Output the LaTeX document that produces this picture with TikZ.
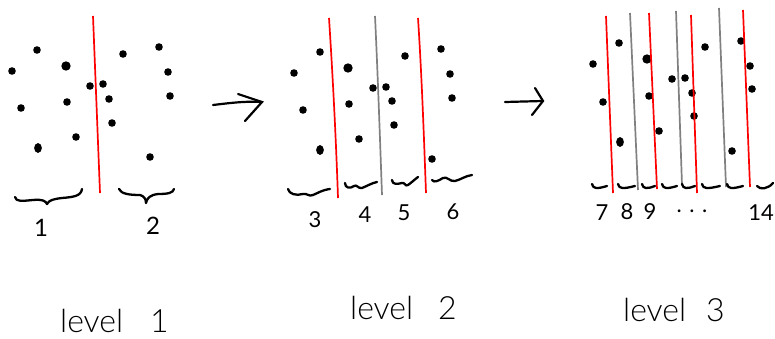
\documentclass[tikz,border=0pt]{standalone}
\usepackage{fontspec}
\setmainfont{Lato}[UprightFont=* Light]
\newfontfamily\digitfont{Lato}
\usetikzlibrary{arrows.meta}
\begin{document}
\begin{tikzpicture}[x=1pt,y=-1pt,
  dotfill/.style={fill=black},
  cutmain/.style={draw=red, line width=1.7pt},
  cutsub/.style={draw=black!50, line width=1.7pt},
  grp/.style={draw=black, line width=2.3pt, line cap=round, line join=round},
  digit/.style={font=\digitfont\fontsize{24}{24}\selectfont, inner sep=0pt},
  small digit/.style={font=\digitfont\fontsize{22}{22}\selectfont, inner sep=0pt},
  lvl/.style={font=\fontsize{32}{32}\selectfont, anchor=base west, inner sep=0pt},
  flow/.style={draw=black, line width=2.2pt, line cap=round}]
\useasboundingbox (0,0) rectangle (775,339);

% ---------- level 1 ----------
\foreach \p in {(37,50),(12,71),(21,108),(67,102),(90,86),(103,84),(109,99),
                (112,123),(76,137),(123,54),(159,47),(168,72),(170,96),(150,157)}
  \fill[dotfill] \p circle[radius=3.8];
\fill[dotfill] (66,66) circle[radius=4.7];
\fill[dotfill] (38,148) ellipse[x radius=3.9, y radius=4.9];
\draw[cutmain] (93,16) -- (100,193);
\draw[grp] (15,197) .. controls (16,202) and (22,201) .. (33,200)
           .. controls (42,199) and (46,201) .. (47,204)
           .. controls (49,200) and (54,199) .. (62,198)
           .. controls (74,197) and (81,196) .. (82,189);
\draw[grp] (119,189) .. controls (121,194) and (130,195) .. (140,195)
           .. controls (144,196) and (146,199) .. (146,203)
           .. controls (147,198) and (150,195) .. (158,194)
           .. controls (168,194) and (173,193) .. (174,189);
\node[digit] (g1) at (41,228) {1};
\node[digit] (g2) at (153,226) {2};
\node[lvl] (lv1) at (60,332) {level\hspace{27pt}1};

% ---------- arrows ----------
\coordinate (a1s) at (213,105);
\coordinate (a1e) at (262,102);
\coordinate (a2s) at (505,102);
\coordinate (a2e) at (543,101);
\draw[flow] (a1s) .. controls (230,103) and (245,101) .. (a1e);
\draw[flow] (238,94) -- (a1e) -- (245,121);
\draw[flow] (a2s) -- (a2e);
\draw[flow] (535,88) -- (a2e) -- (532,115);

% ---------- level 2 ----------
\foreach \p in {(320,52),(294,73),(303,110),(349,104),(373,88),(386,87),(392,101),
                (394,125),(359,139),(405,56),(441,49),(450,74),(452,98),(432,159)}
  \fill[dotfill] \p circle[radius=3.8];
\fill[dotfill] (348,68) circle[radius=4.7];
\fill[dotfill] (320,150) ellipse[x radius=3.9, y radius=4.9];
\draw[cutmain] (329,18) .. controls (333,80) and (336,140) .. (338,198);
\draw[cutsub]  (375,16) .. controls (378,80) and (380,140) .. (382,195);
\draw[cutmain] (418,18) .. controls (422,80) and (424,140) .. (426,193);
\draw[grp] (288,189) .. controls (289,194) and (296,196) .. (303,194)
           .. controls (307,193) and (309,197) .. (313,195)
           .. controls (318,193) and (322,190) .. (330,189);
\draw[grp] (345,183) .. controls (345,188) and (350,189) .. (354,186)
           .. controls (357,184) and (358,189) .. (362,188)
           .. controls (367,186) and (372,183) .. (377,182);
\draw[grp] (392,180) .. controls (392,185) and (398,184) .. (402,183)
           .. controls (405,182) and (405,187) .. (408,185)
           .. controls (411,183) and (414,180) .. (418,177);
\draw[grp] (432,180) .. controls (434,183) and (438,181) .. (443,178)
           .. controls (447,176) and (450,182) .. (455,181)
           .. controls (460,180) and (465,176) .. (472,175);
\node[small digit] (g3) at (315,220) {3};
\node[small digit] (g4) at (365,215) {4};
\node[small digit] (g5) at (404,213) {5};
\node[small digit] (g6) at (453,212) {6};
\node[lvl] (lv2) at (350,319) {level\hspace{25pt}2};

% ---------- level 3 ----------
\foreach \p in {(593,64),(603,102),(619,43),(649,96),(659,131),(672,79),(685,78),
                (692,93),(694,116),(705,47),(741,41),(750,66),(752,89),(732,151)}
  \fill[dotfill] \p circle[radius=3.8];
\fill[dotfill] (647,59) circle[radius=4.7];
\fill[dotfill] (620,142) ellipse[x radius=3.9, y radius=4.9];
\draw[cutmain] (606,16) -- (613,193);
\draw[cutsub]  (630,13) -- (638,190);
\draw[cutmain] (649,13) -- (657,189);
\draw[cutsub]  (676,11) -- (682,185);
\draw[cutmain] (691,15) -- (697,193);
\draw[cutsub]  (719,8)  -- (726,187);
\draw[cutmain] (743,10) -- (750,187);
\foreach \xa/\xb in {592/607,618/635,642/655,662/677,682/695,702/720,727/743}
  \draw[grp] (\xa,184) .. controls (\xa+1,189) and (\xa+5,189) .. (\xb,186);
\draw[grp] (757,186) .. controls (760,190) and (768,189) .. (773,183);
\node[small digit] (g7) at (602,213) {7};
\node[small digit] (g8) at (627,212) {8};
\node[small digit] (g9) at (650,212) {9};
\node[small digit] (gdots) at (692,211) {. . .};
\node[small digit] (g14) at (761,213) {14};
\node[lvl] (lv3) at (623,321) {level\hspace{20pt}3};
\end{tikzpicture}
\end{document}
